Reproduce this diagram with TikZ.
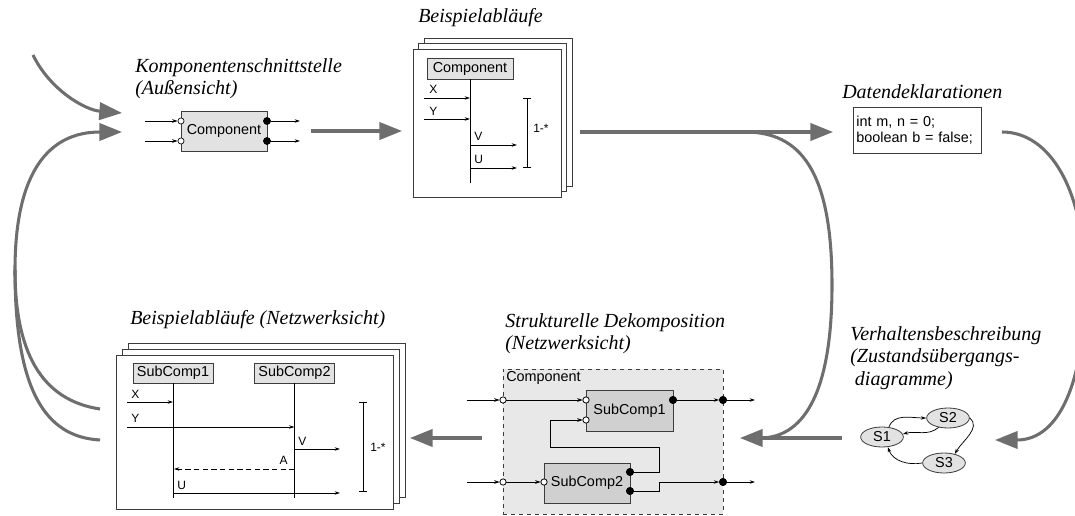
\documentclass[tikz,border=0pt]{standalone}
\usepackage{fontspec}
\setmainfont{Liberation Serif}
\setsansfont{Liberation Sans}
\newfontfamily\headfont{Liberation Serif}
\usetikzlibrary{arrows.meta,shapes.geometric}
\definecolor{flowgray}{HTML}{6E6E6E}
\definecolor{edgegray}{HTML}{3C3C3C}
\definecolor{lightfill}{HTML}{E2E2E2}
\definecolor{areafill}{HTML}{E8E8E8}
\definecolor{subfill}{HTML}{D0D0D0}
\tikzset{
  flow/.style={draw=flowgray, line width=2.3pt},
  flowhead/.style={flow, -{Triangle[length=17pt,width=13pt]}},
  sig/.style={draw=black, line width=0.55pt, -{Stealth[length=4pt,width=2.6pt]}},
  plain/.style={draw=black, line width=0.55pt},
  heading/.style={font=\headfont\fontsize{15}{17}\selectfont\itshape, align=left, inner sep=0pt, anchor=north west},
  sanstext/.style={font=\sffamily\fontsize{10.8}{12}\selectfont},
  siglabel/.style={font=\sffamily\fontsize{9}{10}\selectfont, inner sep=0pt},
  sheet/.style={draw=edgegray, fill=white, line width=0.6pt, inner sep=0pt},
  compbox/.style={draw=edgegray, fill=lightfill, line width=0.6pt, inner sep=0pt, sanstext},
  subbox/.style={draw=edgegray, fill=subfill, line width=0.6pt, inner sep=0pt, sanstext},
  inport/.style={circle, draw=black, fill=white, line width=0.5pt, inner sep=0pt, minimum size=4.6pt},
  outport/.style={circle, draw=black, fill=black, inner sep=0pt, minimum size=5.4pt},
  state/.style={ellipse, draw=edgegray, fill=lightfill, line width=0.6pt, inner sep=0pt,
    minimum width=32pt, minimum height=15pt, sanstext},
  bracket/.style={plain, {Bar[width=6pt]}-{Bar[width=6pt]}},
}
\begin{document}
\begin{tikzpicture}[x=0.75pt, y=-0.75pt]
\useasboundingbox (0,0) rectangle (1075,516);

% ---------- Headings ----------
\node[heading] (hIface) at (135,58) {Komponentenschnittstelle\\(Außensicht)};
\node[heading] (hRuns) at (418,8) {Beispielabläufe};
\node[heading] (hData) at (842,84) {Datendeklarationen};
\node[heading] (hNetRuns) at (130,310) {Beispielabläufe (Netzwerksicht)};
\node[heading] (hStruct) at (505,313) {Strukturelle Dekomposition\\(Netzwerksicht)};
\node[heading] (hBehav) at (850,326) {Verhaltensbeschreibung\\(Zustandsübergangs-\\\hspace*{3.5pt}diagramme)};

% ---------- Component interface (outside view) ----------
\node[compbox, minimum width=64.5pt, minimum height=30pt] (comp) at (224,131) {Component};
\node[inport] (ci1) at (181,121) {};
\node[inport] (ci2) at (181,141) {};
\node[outport] (co1) at (267,121) {};
\node[outport] (co2) at (267,141) {};
\coordinate (ci1s) at (145,121);
\coordinate (ci2s) at (145,141);
\coordinate (co1e) at (300,121);
\coordinate (co2e) at (300,141);
\draw[sig] (ci1s) -- (ci1);
\draw[sig] (ci2s) -- (ci2);
\draw[sig] (co1) -- (co1e);
\draw[sig] (co2) -- (co2e);

% ---------- Example runs (stack of sheets) ----------
\node[sheet, minimum width=111pt, minimum height=111pt] (runsC) at (498,112) {};
\node[sheet, minimum width=111pt, minimum height=111pt] (runsB) at (492.5,117.5) {};
\node[sheet, minimum width=111pt, minimum height=111pt] (runsA) at (487,123) {};
\node[compbox, minimum width=64.5pt, minimum height=15.75pt] (rComp) at (470,68.5) {Component};
\coordinate (rLifeEnd) at (470,183);
\draw[plain] (rComp.south) -- (rLifeEnd);
\coordinate (rXs) at (424,98);   \coordinate (rXe) at (470,98);
\coordinate (rYs) at (424,119);  \coordinate (rYe) at (470,119);
\coordinate (rVs) at (470,145);  \coordinate (rVe) at (517,145);
\coordinate (rUs) at (470,168);  \coordinate (rUe) at (517,168);
\draw[sig] (rXs) -- (rXe);
\draw[sig] (rYs) -- (rYe);
\draw[sig] (rVs) -- (rVe);
\draw[sig] (rUs) -- (rUe);
\node[siglabel, anchor=base west] (rX) at (429,94) {X};
\node[siglabel, anchor=base west] (rY) at (429,115.5) {Y};
\node[siglabel, anchor=base west] (rV) at (474,140.5) {V};
\node[siglabel, anchor=base west] (rU) at (474,163.5) {U};
\coordinate (rBrT) at (527,98);
\coordinate (rBrB) at (527,168);
\draw[bracket] (rBrT) -- (rBrB);
\node[siglabel, anchor=west] (rMult) at (533,128) {1-*};

% ---------- Data declarations ----------
\node[draw=edgegray, fill=white, line width=0.6pt, sanstext, align=left,
      text width=91pt, inner xsep=2.5pt, inner ysep=4.5pt, minimum height=34.5pt] (data) at (917,130)
      {int m, n = 0;\\boolean b = false;};

% ---------- Example runs, network view ----------
\node[sheet, minimum width=207.75pt, minimum height=115.5pt] (netC) at (266.5,420) {};
\node[sheet, minimum width=207.75pt, minimum height=115.5pt] (netB) at (260.5,426) {};
\node[sheet, minimum width=207.75pt, minimum height=115.5pt] (netA) at (254.5,432) {};
\node[compbox, minimum width=60pt, minimum height=15pt] (nSub1) at (173,373) {SubComp1};
\node[compbox, minimum width=60pt, minimum height=15pt] (nSub2) at (294.5,373) {SubComp2};
\coordinate (nLife1End) at (173,498);
\coordinate (nLife2End) at (294.5,498);
\draw[plain] (nSub1.south) -- (nLife1End);
\draw[plain] (nSub2.south) -- (nLife2End);
\coordinate (nXs) at (127,402);  \coordinate (nXe) at (173,402);
\coordinate (nYs) at (127,427);  \coordinate (nYe) at (294.5,427);
\coordinate (nVs) at (294.5,449); \coordinate (nVe) at (340,449);
\coordinate (nAs) at (294.5,469); \coordinate (nAe) at (174,469);
\coordinate (nUs) at (173,493);  \coordinate (nUe) at (340,493);
\draw[sig] (nXs) -- (nXe);
\draw[sig] (nYs) -- (nYe);
\draw[sig] (nVs) -- (nVe);
\draw[sig, dashed, dash pattern=on 4pt off 2.5pt] (nAs) -- (nAe);
\draw[sig] (nUs) -- (nUe);
\node[siglabel, anchor=base west] (nX) at (131,399) {X};
\node[siglabel, anchor=base west] (nY) at (131,423) {Y};
\node[siglabel, anchor=base west] (nV) at (298,445.5) {V};
\node[siglabel, anchor=base east] (nA) at (288,465) {A};
\node[siglabel, anchor=base west] (nU) at (177,489) {U};
\coordinate (nBrT) at (363,402);
\coordinate (nBrB) at (363,492);
\draw[bracket] (nBrT) -- (nBrB);
\node[siglabel, anchor=west] (nMult) at (370,447) {1-*};

% ---------- Structural decomposition, network view ----------
\node[draw=edgegray, dashed, fill=areafill, line width=0.6pt, inner sep=0pt,
      minimum width=165pt, minimum height=108.75pt] (area) at (613,441.5) {};
\node[sanstext, anchor=north west, inner sep=0pt] (areaLabel) at (506,371) {Component};
\node[subbox, minimum width=65.25pt, minimum height=30.75pt] (sub1) at (629.5,410.5) {SubComp1};
\node[subbox, minimum width=64.5pt, minimum height=30pt] (sub2) at (587,483) {SubComp2};
\coordinate (ain1s) at (467,400);
\coordinate (ain2s) at (467,482);
\coordinate (aout1e) at (755,400);
\coordinate (aout2e) at (755,482);
\coordinate (fbA) at (659,447);
\coordinate (fbB) at (550,420);
\coordinate (fbC) at (659,482);
\node[inport] (ai1) at (503,400) {};
\node[inport] (ai2) at (503,482) {};
\node[inport] (s1i1) at (586,400) {};
\node[inport] (s1i2) at (586,420) {};
\node[inport] (s2i) at (544,482) {};
\node[outport] (s1o) at (673,400) {};
\node[outport] (s2o1) at (630,472) {};
\node[outport] (s2o2) at (630,491) {};
\node[outport] (ao1) at (723,400) {};
\node[outport] (ao2) at (723,482) {};
\draw[sig] (ain1s) -- (ai1);
\draw[sig] (ain2s) -- (ai2);
\draw[sig] (ai1) -- (s1i1);
\draw[sig] (ai2) -- (s2i);
\draw[sig] (s1o) -- (ao1);
\draw[sig] (ao1) -- (aout1e);
\draw[sig] (ao2) -- (aout2e);
\draw[sig] (s2o1) -| (fbA) -| (fbB) -- (s1i2);
\draw[sig] (s2o2) -| (fbC) -- (ao2);
% redraw ports on top of the wiring
\node[inport] at (ai1) {}; \node[inport] at (ai2) {};
\node[inport] at (s1i1) {}; \node[inport] at (s1i2) {}; \node[inport] at (s2i) {};
\node[outport] at (s1o) {}; \node[outport] at (s2o1) {}; \node[outport] at (s2o2) {};
\node[outport] at (ao1) {}; \node[outport] at (ao2) {};

% ---------- Behaviour: state transition diagram ----------
\node[state] (S1) at (882,437) {S1};
\node[state] (S2) at (948,418) {S2};
\node[state] (S3) at (944,463) {S3};
\draw[sig] (S1.55) to[out=70, in=180] (S2.west);
\draw[sig] (S2.225) to[out=220, in=15] (S1.8);
\draw[sig] (S2.east) to[out=-40, in=60] (S3.40);
\draw[sig] (S3.west) to[out=190, in=-70] (S1.-60);

% ---------- Development flow (thick grey arrows) ----------
\coordinate (fTopA) at (33,55);
\coordinate (fTopAEnd) at (122,113);
\coordinate (fBackEnd) at (122,132);
\coordinate (fBackX) at (100,409);
\coordinate (fBackY) at (100,440);
\coordinate (fBackJoin) at (15,270);
\coordinate (fIfaceS) at (311,131);
\coordinate (fIfaceE) at (402,131);
\coordinate (fRunsS) at (580,132);
\coordinate (fRunsE) at (833,132);
\coordinate (fSplit) at (745,132);
\coordinate (fSplitEnd) at (760,438);
\coordinate (fDataS) at (1002,132);
\coordinate (fDataE) at (995,440);
\coordinate (fBehavS) at (842,438);
\coordinate (fBehavE) at (740,438);
\coordinate (fStructS) at (482,438);
\coordinate (fStructE) at (410,438);

\draw[flowhead] (fTopA) .. controls (50,90) and (85,110) .. (fTopAEnd);
\draw[flowhead] (fBackX) .. controls (40,400) and (15,350) .. (fBackJoin)
                .. controls (15,170) and (50,132) .. (fBackEnd);
\draw[flow] (fBackY) .. controls (45,437) and (15,390) .. (fBackJoin);
\draw[flowhead] (fIfaceS) -- (fIfaceE);
\draw[flowhead] (fRunsS) -- (fRunsE);
\draw[flow] (fSplit) .. controls (800,132) and (832,170) .. (832,285)
            .. controls (832,400) and (800,438) .. (fSplitEnd);
\begin{scope}
  \clip (0,0) rectangle (1075,516);
  \draw[flowhead] (fDataS) .. controls (1050,132) and (1085,190) .. (1085,285)
                  .. controls (1085,380) and (1060,440) .. (fDataE);
\end{scope}
\draw[flowhead] (fBehavS) -- (fBehavE);
\draw[flowhead] (fStructS) -- (fStructE);
\end{tikzpicture}
\end{document}
